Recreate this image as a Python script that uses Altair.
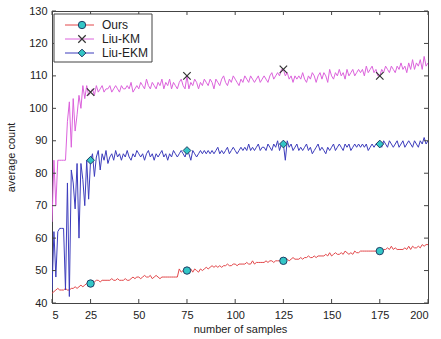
import altair as alt
import pandas as pd

# ---------------- data ----------------
x_vals = list(range(5, 201))

ours = [
    43, 43.5, 44, 44.5, 44, 44, 44, 44.5, 44, 44,
    44.5, 44.5, 45, 44.5, 45, 45.5, 45, 45.5, 46, 45.5,
    46, 46.5, 46.5, 47, 47, 46.5, 47, 47, 47, 47,
    47, 47.5, 47, 47, 47.5, 47, 47, 47, 47.5, 47,
    47, 47.5, 48, 47.5, 48, 48, 47.5, 48, 48.5, 48,
    48, 48.5, 47.5, 48, 48.5, 48, 47.5, 48, 48, 48,
    48, 48, 48, 48, 48, 48, 50.5, 49.5, 50, 50.5,
    50, 49.5, 50.5, 49.5, 50.5, 50, 49.5, 50.5, 50, 50.5,
    51, 50.5, 51, 51.5, 51, 51.5, 51, 51.5, 51, 51.5,
    51.5, 52, 51.5, 51.5, 52, 52, 51.5, 52, 52, 52,
    52, 52.5, 52, 52, 53, 52, 52.5, 52.5, 52.5, 52.5,
    52.5, 53, 52.5, 53, 53, 52.5, 53, 53, 53, 53,
    53, 53.5, 53.5, 53, 53.5, 54, 53.5, 53.5, 53.5, 54,
    53.5, 54, 54, 54.5, 54, 54, 54.5, 54, 54.5, 54.5,
    54.5, 54.5, 55, 54.5, 55.5, 54.5, 55, 55.5, 55, 55,
    55.5, 55, 56, 55.5, 55, 55.5, 55, 56, 55.5, 55.5,
    56, 56, 56, 56, 56, 56, 56, 56, 56, 56,
    56, 56, 56.5, 56.5, 57, 56.5, 57.5, 56.5, 57, 56.5,
    56.5, 56.5, 56.5, 57, 56.5, 57.5, 56.5, 57.5, 57, 57,
    57.5, 57, 58, 57.5, 58, 58,
]

liu_km = [
    65, 84, 70, 84, 84, 84, 84, 84, 96, 102,
    88, 103, 93, 98, 104, 100, 107, 103, 107, 104,
    105, 106, 104, 107, 105, 106, 107, 105, 106, 106,
    107, 105, 106, 107, 106, 105, 107, 106, 106, 107,
    106, 108, 105, 106, 107, 106, 108, 107, 106, 109,
    107, 106, 108, 107, 106, 108, 107, 109, 106, 108,
    107, 109, 106, 108, 107, 106, 108, 109, 107, 106,
    110, 106, 108, 107, 109, 108, 106, 108, 107, 109,
    108, 107, 109, 108, 106, 109, 108, 107, 109, 110,
    108, 107, 109, 108, 110, 109, 108, 107, 109, 108,
    110, 109, 108, 110, 109, 108, 109, 110, 108, 109,
    110, 109, 108, 110, 111, 109, 110, 111, 110, 112,
    112, 110, 111, 109, 110, 108, 110, 109, 110, 109,
    111, 109, 108, 110, 109, 111, 110, 108, 110, 111,
    109, 111, 110, 108, 112, 110, 109, 111, 110, 112,
    110, 111, 109, 112, 110, 111, 112, 110, 111, 112,
    111, 112, 110, 113, 111, 112, 113, 111, 112, 110,
    110, 112, 111, 113, 112, 111, 113, 112, 111, 113,
    112, 114, 112, 113, 111, 114, 112, 115, 112, 114,
    113, 115, 112, 116, 113, 114,
]

liu_ekm = [
    44, 62, 48, 62, 63, 63, 63, 44, 77, 42,
    81, 77, 69, 83, 60, 83, 78, 70, 84, 72,
    84, 86, 79, 85, 87, 81, 86, 84, 87, 83,
    85, 86, 84, 87, 85, 86, 84, 86, 85, 87,
    85, 84, 86, 85, 87, 86, 85, 86, 84, 86,
    87, 85, 86, 84, 86, 85, 86, 87, 85, 86,
    84, 86, 85, 87, 86, 85, 86, 87, 86, 85,
    87, 86, 84, 87, 86, 85, 86, 87, 86, 87,
    86, 87, 86, 87, 86, 87, 88, 86, 87, 86,
    87, 88, 86, 87, 88, 87, 86, 87, 88, 87,
    88, 87, 89, 87, 88, 87, 88, 89, 87, 88,
    88, 87, 89, 88, 87, 89, 88, 90, 87, 89,
    89, 84, 90, 88, 89, 87, 88, 89, 87, 88,
    87, 88, 89, 87, 88, 86, 87, 88, 89, 87,
    88, 87, 86, 88, 87, 88, 89, 87, 88, 89,
    88, 87, 89, 88, 89, 87, 88, 89, 88, 89,
    88, 89, 88, 89, 87, 88, 89, 88, 89, 89,
    89, 88, 90, 89, 88, 90, 89, 88, 89, 90,
    88, 89, 90, 88, 89, 90, 89, 88, 90, 89,
    88, 90, 89, 91, 89, 90,
]

series_names = ["Ours", "Liu-KM", "Liu-EKM"]
line_colors = ["#e2474a", "#dc62dc", "#3c3cbc"]
marker_x = [25, 75, 125, 175]
x_ticks = [5, 25, 50, 75, 100, 125, 150, 175, 200]
y_ticks = [40, 50, 60, 70, 80, 90, 100, 110, 120, 130]

# ---------------- tables ----------------
frames = []
for name, vals in zip(series_names, [ours, liu_km, liu_ekm]):
    frames.append(pd.DataFrame({"x": x_vals, "value": vals, "series": name}))
df = pd.concat(frames, ignore_index=True)
mk = df[df["x"].isin(marker_x)]

W, H = 376, 292
FONT = "Liberation Sans"
CYAN = "#33c6c6"
EDGE = "#1f3f66"

x_scale = alt.Scale(domain=[5, 200], nice=False, zero=False)
y_scale = alt.Scale(domain=[40, 130], nice=False, zero=False)

x_axis = alt.Axis(values=x_ticks, title="number of samples", ticks=False,
                  labelPadding=6, titlePadding=3, grid=False)
y_axis = alt.Axis(values=y_ticks, title="average count", ticks=False,
                  labelPadding=5, titlePadding=12, grid=False)

X = lambda f: alt.X(f, scale=x_scale, axis=x_axis)
Y = lambda f: alt.Y(f, scale=y_scale, axis=y_axis)

lines = alt.Chart(df).mark_line(strokeWidth=1, clip=True).encode(
    x=X("x:Q"),
    y=Y("value:Q"),
    color=alt.Color("series:N", scale=alt.Scale(domain=series_names, range=line_colors), legend=None),
)

m_ours = alt.Chart(mk[mk["series"] == "Ours"]).mark_point(
    shape="circle", fill=CYAN, stroke=EDGE, strokeWidth=1, fillOpacity=1, opacity=1, size=55
).encode(x=X("x:Q"), y=Y("value:Q"))

m_km = alt.Chart(mk[mk["series"] == "Liu-KM"]).mark_point(
    shape="M-1,-1L1,1M-1,1L1,-1", stroke="#333333", strokeWidth=1.2, filled=False, opacity=1, size=55
).encode(x=X("x:Q"), y=Y("value:Q"))

m_ekm = alt.Chart(mk[mk["series"] == "Liu-EKM"]).mark_point(
    shape="diamond", fill=CYAN, stroke=EDGE, strokeWidth=1, fillOpacity=1, opacity=1, size=60
).encode(x=X("x:Q"), y=Y("value:Q"))

# inward ticks (MATLAB style) drawn from tick arrays
yt = pd.DataFrame({"x": [5] * len(y_ticks), "value": y_ticks})
xt = pd.DataFrame({"x": x_ticks, "value": [40] * len(x_ticks)})
TK = 4
tick_color = "#444444"
left_t = alt.Chart(yt).mark_rule(color=tick_color, strokeWidth=1).encode(
    y=Y("value:Q"), x=alt.value(0), x2=alt.value(TK))
right_t = alt.Chart(yt).mark_rule(color=tick_color, strokeWidth=1).encode(
    y=Y("value:Q"), x=alt.value(W - TK), x2=alt.value(W))
bot_t = alt.Chart(xt).mark_rule(color=tick_color, strokeWidth=1).encode(
    x=X("x:Q"), y=alt.value(H - TK), y2=alt.value(H))
top_t = alt.Chart(xt).mark_rule(color=tick_color, strokeWidth=1).encode(
    x=X("x:Q"), y=alt.value(0), y2=alt.value(TK))

# legend (manual, MATLAB style box)
LX0, LX1, LY0, LY1 = 2, 100, 3, 51
rows_y = [14, 28, 42]
leg_layers = [
    alt.Chart(pd.DataFrame({"a": [0]})).mark_rect(fill="white", stroke="#444444", strokeWidth=1).encode(
        x=alt.value(LX0), x2=alt.value(LX1), y=alt.value(LY0), y2=alt.value(LY1))
]
marker_specs = [
    dict(shape="circle", fill=CYAN, stroke=EDGE, strokeWidth=1, fillOpacity=1, size=55),
    dict(shape="M-1,-1L1,1M-1,1L1,-1", stroke="#333333", strokeWidth=1.2, filled=False, size=55),
    dict(shape="diamond", fill=CYAN, stroke=EDGE, strokeWidth=1, fillOpacity=1, size=60),
]
for name, col, yy, spec in zip(series_names, line_colors, rows_y, marker_specs):
    one = pd.DataFrame({"label": [name]})
    leg_layers.append(alt.Chart(one).mark_rule(color=col, strokeWidth=1).encode(
        x=alt.value(13), x2=alt.value(42), y=alt.value(yy)))
    leg_layers.append(alt.Chart(one).mark_point(opacity=1, **spec).encode(
        x=alt.value(30), y=alt.value(yy)))
    leg_layers.append(alt.Chart(one).mark_text(align="left", baseline="middle", font=FONT,
                                               fontSize=12, color="#222222").encode(
        x=alt.value(50), y=alt.value(yy), text="label:N"))

chart = alt.layer(
    lines, m_ours, m_km, m_ekm, left_t, right_t, bot_t, top_t, *leg_layers
).properties(
    width=W, height=H,
    autosize=alt.AutoSizeParams(type="none"),
    padding={"left": 52, "top": 11, "right": 13, "bottom": 36},
).configure_view(
    stroke="#444444", strokeWidth=1
).configure_axis(
    domainColor="#444444", labelFont=FONT, titleFont=FONT, labelFontSize=11, titleFontSize=11,
    labelColor="#222222", titleColor="#222222", titleFontWeight="normal"
)

chart.save("out.html", embed_options={"renderer": "svg", "actions": False})
